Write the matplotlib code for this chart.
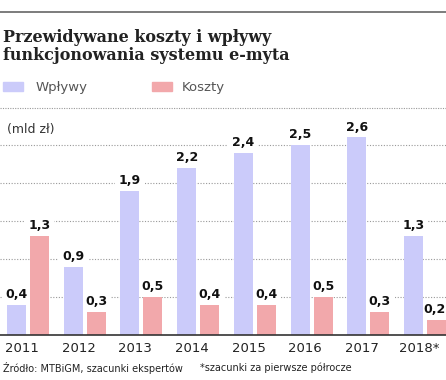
import numpy as np
import matplotlib
matplotlib.use("Agg")
import matplotlib.pyplot as plt
from matplotlib.lines import Line2D
from matplotlib.patches import Rectangle

years = ["2011", "2012", "2013", "2014", "2015", "2016", "2017", "2018*"]
wplywy = [0.4, 0.9, 1.9, 2.2, 2.4, 2.5, 2.6, 1.3]
koszty = [1.3, 0.3, 0.5, 0.4, 0.4, 0.5, 0.3, 0.2]

c_wpl = "#cbcbfa"
c_kos = "#f2a8ab"

W, H = 446, 380
fig = plt.figure(figsize=(W / 100, H / 100), dpi=100)

# axes: baseline at y=335px, 1 unit = 76px
ymax = 2.7
ax = fig.add_axes([0, (H - 335) / H, 1, 76 * ymax / H])
ax.set_xlim(-0.494, 7.37)
ax.set_ylim(0, ymax)

x = np.arange(len(years))
bw = 0.335
off = 0.203
ax.bar(x - off, wplywy, bw, color=c_wpl, zorder=3)
ax.bar(x + off, koszty, bw, color=c_kos, zorder=3)

for yv in [0.5, 1.0, 1.5, 2.0, 2.5]:
    ax.axhline(yv, color="#999999", lw=0.8, ls=(0, (1, 1.5)), zorder=1)

lbl = dict(va="bottom", fontsize=9, fontweight="bold", color="#111111", zorder=2,
           bbox=dict(boxstyle="square,pad=0.3", fc="white", ec="none"))
for xi, v in zip(x, wplywy):
    ax.text(xi - off, v + 0.05, f"{v:.1f}".replace(".", ","), ha="center", **lbl)
for xi, v in zip(x, koszty):
    if xi == x[-1]:
        # last label sits against the right edge
        ax.text(7.37, v + 0.05, f"{v:.1f}".replace(".", ","), ha="right", **lbl)
    else:
        ax.text(xi + off, v + 0.05, f"{v:.1f}".replace(".", ","), ha="center", **lbl)

for s in ["top", "right", "left"]:
    ax.spines[s].set_visible(False)
ax.spines["bottom"].set_color("#333333")
ax.spines["bottom"].set_linewidth(1.2)
ax.spines["bottom"].set_zorder(4)
ax.set_yticks([])
ax.set_xticks(x - 0.11)
ax.set_xticklabels(years, fontsize=9.5, color="#222222")
ax.tick_params(axis="x", length=0, pad=5)

# header decoration
fig.add_artist(Line2D([0, 1], [1 - 12 / H, 1 - 12 / H], color="#666666", lw=1.2))
fig.add_artist(Line2D([0, 1], [1 - 108 / H, 1 - 108 / H], color="#999999", lw=0.8, ls=(0, (1, 1.2))))

fig.text(3 / W, 1 - 29 / H, "Przewidywane koszty i wpływy\nfunkcjonowania systemu e-myta",
         family="DejaVu Serif", fontweight="bold", fontsize=11.5, va="top", ha="left",
         color="#222222", linespacing=1.05)

fig.add_artist(Rectangle((3 / W, 1 - 91 / H), 20 / W, 9 / H, color=c_wpl, transform=fig.transFigure))
fig.add_artist(Rectangle((152 / W, 1 - 91 / H), 20 / W, 9 / H, color=c_kos, transform=fig.transFigure))
fig.text(36 / W, 1 - 87 / H, "Wpływy", fontsize=9.5, color="#555555", va="center")
fig.text(182 / W, 1 - 87 / H, "Koszty", fontsize=9.5, color="#555555", va="center")

fig.text(7 / W, 1 - 130 / H, "(mld zł)", fontsize=9, color="#333333", va="center")

fig.text(3 / W, 1 - 368 / H, "Źródło: MTBiGM, szacunki ekspertów", fontsize=7, color="#222222", va="center")
fig.text(200 / W, 1 - 368 / H, "*szacunki za pierwsze półrocze", fontsize=7, color="#222222", va="center")

fig.savefig("out.png", dpi=100)
